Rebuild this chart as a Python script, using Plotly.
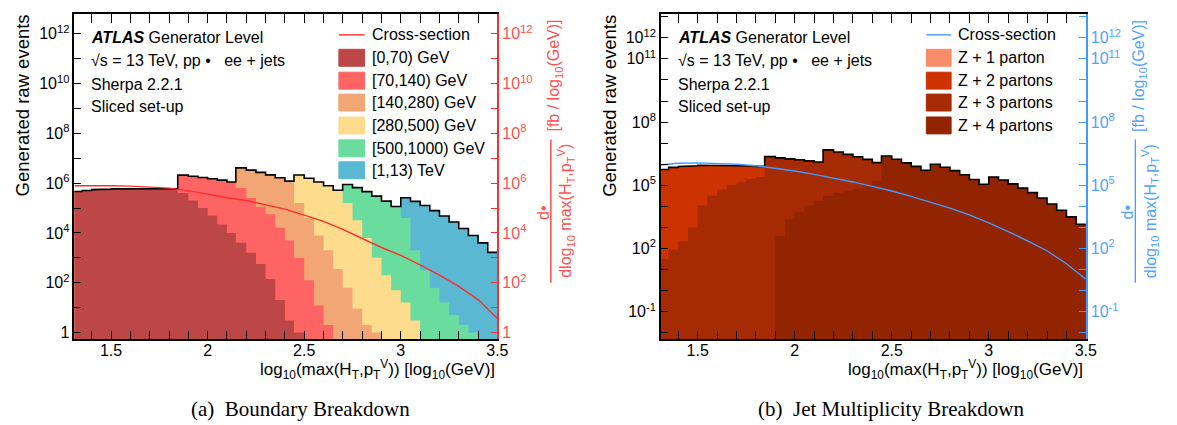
import numpy as np
import plotly.graph_objects as go

# ---------------- data ----------------
bin_edges = [1.30, 1.35, 1.40, 1.45, 1.50, 1.55, 1.60, 1.65, 1.70, 1.75, 1.80, 1.845,
             1.90, 1.95, 2.00, 2.05, 2.10, 2.146, 2.20, 2.25, 2.30, 2.35, 2.40, 2.447,
             2.50, 2.55, 2.60, 2.65, 2.699, 2.75, 2.80, 2.85, 2.90, 2.95, 3.00,
             3.05, 3.10, 3.15, 3.20, 3.25, 3.30, 3.35, 3.40, 3.45, 3.50]

slice_names = ["[0,70) GeV", "[70,140) GeV", "[140,280) GeV", "[280,500) GeV",
               "[500,1000) GeV", "[1,13) TeV"]
slice_colors = ["#BD4646", "#FF6464", "#F1A673", "#FDDC8D", "#6ADC9D", "#5AB8D2"]

events_0_70 = [4.6e5, 5.1e5, 5.5e5, 5.75e5, 5.9e5, 5.9e5, 6.0e5, 6.0e5, 6.0e5, 6.0e5, 6.0e5,
               4.0e5, 2.0e5, 1.0e5, 5.0e4, 2.2e4, 1.0e4,
               4.0e3, 1.6e3, 560, 140, 20, 3,
               1, 0, 0, 0, 0,
               0, 0, 0, 0, 0, 0,
               0, 0, 0, 0, 0, 0, 0, 0, 0, 0]
events_70_140 = [0, 0, 0, 0, 0, 0, 0, 0, 0, 0, 0,
                 1.7e6, 1.7e6, 1.6e6, 1.46e6, 1.3e6, 1.11e6,
                 6.3e5, 2.5e5, 1.1e5, 5.6e4, 1.6e4, 5.0e3,
                 1.0e3, 125, 12, 2, 0,
                 0, 0, 0, 0, 0, 0,
                 0, 0, 0, 0, 0, 0, 0, 0, 0, 0]
events_140_280 = [0, 0, 0, 0, 0, 0, 0, 0, 0, 0, 0,
                  0, 0, 0, 0, 0, 0,
                  3.5e6, 3.1e6, 2.6e6, 2.1e6, 1.64e6, 1.2e6,
                  1.57e5, 4.0e4, 7.9e3, 2.0e3, 355,
                  63, 9, 2, 1, 0, 0,
                  0, 0, 0, 0, 0, 0, 0, 0, 0, 0]
events_280_500 = [0, 0, 0, 0, 0, 0, 0, 0, 0, 0, 0,
                  0, 0, 0, 0, 0, 0,
                  0, 0, 0, 0, 0, 0,
                  1.98e6, 1.54e6, 1.11e6, 7.9e5, 5.2e5,
                  1.58e5, 3.2e4, 6.3e3, 1.0e3, 200, 50,
                  16, 3, 0, 0, 0, 0, 0, 0, 0, 0]
events_500_1000 = [0, 0, 0, 0, 0, 0, 0, 0, 0, 0, 0,
                   0, 0, 0, 0, 0, 0,
                   0, 0, 0, 0, 0, 0,
                   0, 0, 0, 0, 0,
                   7.3e5, 6.3e5, 4.5e5, 3.0e5, 1.9e5, 1.15e5,
                   4.0e4, 2.0e3, 316, 63, 16, 5, 2, 1, 0, 0]
events_1_13 = [0, 0, 0, 0, 0, 0, 0, 0, 0, 0, 0,
               0, 0, 0, 0, 0, 0,
               0, 0, 0, 0, 0, 0,
               0, 0, 0, 0, 0,
               0, 0, 0, 0, 0, 0,
               2.2e5, 1.84e5, 1.26e5, 7.9e4, 4.8e4, 2.75e4, 1.5e4, 7.9e3, 4.0e3, 1.66e3]

parton_names = ["Z + 1 parton", "Z + 2 partons", "Z + 3 partons", "Z + 4 partons"]
parton_colors = ["#F78C69", "#CC3300", "#A62A03", "#932402"]

events_z1 = [0] * 44
events_z2 = [5.6e5, 7.1e5, 7.9e5, 8.5e5, 8.8e5, 8.6e5, 8.3e5, 7.9e5, 7.3e5, 6.3e5, 5.4e5,
             0, 0, 0, 0, 0, 0,
             0, 0, 0, 0, 0, 0,
             0, 0, 0, 0, 0,
             0, 0, 0, 0, 0, 0,
             0, 0, 0, 0, 0, 0, 0, 0, 0, 0]
events_z3 = [32, 89, 224, 1.0e3, 1.1e4, 3.2e4, 6.3e4, 1.0e5, 1.4e5, 2.0e5, 2.5e5,
             2.3e6, 2.0e6, 1.8e6, 1.62e6, 1.43e6, 1.27e6,
             4.8e6, 3.8e6, 2.9e6, 2.2e6, 1.6e6, 1.04e6,
             0, 0, 0, 0, 0,
             0, 0, 0, 0, 0, 0,
             0, 0, 0, 0, 0, 0, 0, 0, 0, 0]
events_z4 = [0, 0, 0, 0, 0, 0, 0, 0, 0, 0, 0,
             0, 400, 2.5e3, 5.6e3, 1.1e4, 1.8e4,
             3.2e4, 4.5e4, 5.6e4, 7.1e4, 1.0e5, 1.6e5,
             2.45e6, 1.74e6, 1.17e6, 7.9e5, 5.2e5,
             1.0e6, 7.2e5, 5.0e5, 3.2e5, 1.9e5, 1.12e5,
             2.5e5, 1.78e5, 1.17e5, 7.4e4, 4.5e4, 2.5e4, 1.3e4, 6.6e3, 3.2e3, 1.4e3]

xsec_x = [1.31, 1.4, 1.5, 1.6, 1.7, 1.8, 1.9, 2.0, 2.1, 2.2, 2.3, 2.4,
          2.5, 2.6, 2.7, 2.8, 2.9, 3.0, 3.1, 3.2, 3.3, 3.4, 3.5]
xsec_a = [7.9e5, 8.1e5, 7.9e5, 7.6e5, 7.1e5, 6.3e5, 5.0e5, 3.5e5, 2.6e5, 2.0e5, 1.35e5, 9.1e4,
          5.2e4, 2.9e4, 1.4e4, 6.0e3, 2.6e3, 1.26e3, 525, 200, 71, 21, 3.6]
xsec_b = [9.3e5, 1.12e6, 1.17e6, 1.12e6, 1.0e6, 8.5e5, 6.6e5, 4.8e5, 3.3e5, 2.2e5, 1.45e5, 8.9e4,
          5.4e4, 3.0e4, 1.6e4, 8.3e3, 4.0e3, 1.66e3, 630, 234, 79, 19, 3.5]

x_ticks = [1.5, 2, 2.5, 3, 3.5]
x_ticktext = ["1.5", "2", "2.5", "3", "3.5"]

RED_LINE = "#FF2E2E"
RED_TEXT = "#FF4F4F"
BLUE_LINE = "#3F9BFF"
BLUE_TEXT = "#4FA3FF"

W, H = 1177, 425


def P(px):
    return px / W


def Q(py):
    return 1 - py / H


fig = go.Figure()


def add_stack(layers, colors, xa, ya):
    edges = np.array(bin_edges)
    cum = np.cumsum(np.array(layers, dtype=float), axis=0)
    floor = 1e-4
    xs_step = np.repeat(edges, 2)[1:-1]
    for k in reversed(range(len(layers))):
        ys = np.repeat(cum[k], 2)
        ys = np.where(ys > 0, ys, floor)
        px = np.concatenate([xs_step, [edges[-1], edges[0]]])
        py = np.concatenate([ys, [floor, floor]])
        fig.add_trace(go.Scatter(x=px, y=py, fill="toself", fillcolor=colors[k],
                                 mode="lines", line=dict(width=0, color=colors[k]),
                                 xaxis=xa, yaxis=ya, showlegend=False, hoverinfo="skip"))
    tot = np.repeat(cum[-1], 2)
    tot = np.where(tot > 0, tot, floor)
    fig.add_trace(go.Scatter(x=xs_step, y=tot, mode="lines",
                             line=dict(width=1.6, color="black"),
                             xaxis=xa, yaxis=ya, showlegend=False, hoverinfo="skip"))


add_stack([events_0_70, events_70_140, events_140_280, events_280_500,
           events_500_1000, events_1_13], slice_colors, "x", "y")
fig.add_trace(go.Scatter(x=xsec_x, y=xsec_a, mode="lines", line=dict(color=RED_LINE, width=1.4),
                         xaxis="x", yaxis="y2", showlegend=False))

add_stack([events_z4, events_z3, events_z2, events_z1],
          [parton_colors[3], parton_colors[2], parton_colors[1], parton_colors[0]], "x2", "y3")
fig.add_trace(go.Scatter(x=xsec_x, y=xsec_b, mode="lines", line=dict(color=BLUE_LINE, width=1.4),
                         xaxis="x2", yaxis="y4", showlegend=False))

# ---------------- axes ----------------
ydom = [Q(333), Q(6)]


def xaxis_cfg(dom, anchor):
    return dict(domain=dom, anchor=anchor, range=[1.31, 3.5], tickmode="array",
                tickvals=x_ticks, ticktext=x_ticktext, ticks="inside", ticklen=9,
                tickwidth=1.2, tickcolor="black", showline=True, linecolor="black",
                linewidth=1.5, mirror="allticks", showgrid=False, zeroline=False,
                tickfont=dict(size=16, color="black"), ticklabelstandoff=-4,
                minor=dict(tickmode="linear", tick0=0, dtick=0.1, ticks="inside",
                           ticklen=5, tickwidth=1, tickcolor="black", showgrid=False))


def ylabels(lo, hi, labelled):
    vals, txt = [], []
    for k in range(lo, hi + 1):
        vals.append(10.0 ** k)
        if k in labelled:
            txt.append("1" if k == 0 else "10<sup>%d</sup>" % k)
        else:
            txt.append("")
    return vals, txt


va, ta = ylabels(0, 12, [0, 2, 4, 6, 8, 10, 12])
vb, tb = ylabels(-2, 13, [-1, 2, 5, 8, 11, 12])


def yaxis_cfg(rng, vals, txt, color, tcolor, side, anchor, overlay=None):
    d = dict(type="log", range=rng, tickmode="array", tickvals=vals, ticktext=txt,
             ticks="inside", ticklen=7, tickwidth=1.1, tickcolor=color, showline=True,
             linecolor=color, linewidth=1.5, showgrid=False, zeroline=False, side=side,
             anchor=anchor, tickfont=dict(size=16, color=tcolor))
    if overlay:
        d["overlaying"] = overlay
    else:
        d["domain"] = ydom
    return d


fig.update_layout(
    width=W, height=H, margin=dict(l=0, r=0, t=0, b=0),
    paper_bgcolor="white", plot_bgcolor="rgba(0,0,0,0)", showlegend=False,
    font=dict(family="Liberation Sans, Arial, sans-serif", size=16, color="black"),
    xaxis=xaxis_cfg([P(67), P(494)], "y"),
    xaxis2=xaxis_cfg([P(659), P(1088)], "y3"),
    yaxis=yaxis_cfg([-0.28, 12.8], va, ta, "black", "black", "left", "x"),
    yaxis2=yaxis_cfg([-0.28, 12.8], va, ta, RED_LINE, RED_TEXT, "right", "x", "y"),
    yaxis3=yaxis_cfg([-2.31, 13.13], vb, tb, "black", "black", "left", "x2"),
    yaxis4=yaxis_cfg([-2.31, 13.13], vb, tb, BLUE_LINE, BLUE_TEXT, "right", "x2", "y3"),
)

# ---------------- annotations ----------------
ann = []
shapes = []


def txt(x, y, s, size=16, color="black", xanchor="left", angle=0, family=None):
    f = dict(size=size, color=color)
    if family:
        f["family"] = family
    ann.append(dict(x=P(x), y=Q(y), xref="paper", yref="paper", text=s, showarrow=False,
                    xanchor=xanchor, yanchor="middle", textangle=angle, font=f))


xtitle = "log<sub>10</sub>(max(H<sub>T</sub>,p<sub>T</sub><sup>V</sup>)) [log<sub>10</sub>(GeV)]"
denom = "dlog<sub>10</sub> max(H<sub>T</sub>,p<sub>T</sub><sup>V</sup>)"

for off, lc, tc in [(0, RED_LINE, RED_TEXT), (592, BLUE_LINE, BLUE_TEXT)]:
    sh = off - (2 if off else 0)
    # panel texts
    txt(82 + off, 30, "<b><i>ATLAS</i></b> Generator Level")
    txt(82 + off, 53, "\u221as = 13 TeV, pp \u2022\u00a0\u00a0\u00a0ee + jets")
    txt(82 + off, 77, "Sherpa 2.2.1")
    txt(82 + off, 99, "Sliced set-up")
    # left axis title
    txt(15 + off, 98, "Generated raw events", size=18.5, xanchor="center", angle=-90)
    # x axis title
    txt((494 if off == 0 else 1087), 363, xtitle, size=17, xanchor="right")
    # right axis title (fraction)
    txt(540 + sh, 205, "d\u2022", color=tc, xanchor="center", angle=-90)
    txt(563 + sh, 204, denom, color=tc, xanchor="center", angle=-90)
    txt(552 + sh, 68, "[fb / log<sub>10</sub>(GeV)]", color=tc, xanchor="center", angle=-90)
    shapes.append(dict(type="line", xref="paper", yref="paper",
                       x0=P(548 + sh), x1=P(548 + sh),
                       y0=Q(132), y1=Q(276), line=dict(color=lc, width=1.3)))

# legend panel (a)
shapes.append(dict(type="line", xref="paper", yref="paper", x0=P(334), x1=P(360),
                   y0=Q(27), y1=Q(27), line=dict(color=RED_LINE, width=1.4)))
txt(365, 27, "Cross-section")
rows_a = [50, 73, 95, 118, 141, 163]
for name, col, ry in zip(slice_names, slice_colors, rows_a):
    shapes.append(dict(type="rect", xref="paper", yref="paper", x0=P(334), x1=P(360),
                       y0=Q(ry + 8.5), y1=Q(ry - 8.5), fillcolor=col,
                       line=dict(color=col, width=1)))
    txt(365, ry, name)

# legend panel (b)
shapes.append(dict(type="line", xref="paper", yref="paper", x0=P(927), x1=P(952),
                   y0=Q(27), y1=Q(27), line=dict(color=BLUE_LINE, width=1.4)))
txt(957, 27, "Cross-section")
rows_b = [50, 73, 95, 118]
for name, col, ry in zip(parton_names, parton_colors, rows_b):
    shapes.append(dict(type="rect", xref="paper", yref="paper", x0=P(927), x1=P(952),
                       y0=Q(ry + 8.5), y1=Q(ry - 8.5), fillcolor=col,
                       line=dict(color=col, width=1)))
    txt(957, ry, name)

# captions
txt(295, 403, "(a)\u00a0\u00a0Boundary Breakdown", size=21, xanchor="center",
    family="Liberation Serif, Times New Roman, serif")
txt(891, 403, "(b)\u00a0\u00a0Jet Multiplicity Breakdown", size=21, xanchor="center",
    family="Liberation Serif, Times New Roman, serif")

fig.update_layout(annotations=ann, shapes=shapes)
fig.write_html("out.html")
